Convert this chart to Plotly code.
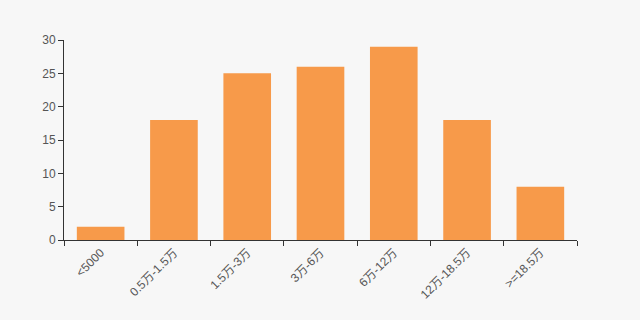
import plotly.graph_objects as go

categories = ["<5000", "0.5万-1.5万", "1.5万-3万", "3万-6万", "6万-12万", "12万-18.5万", ">=18.5万"]
values = [2, 18, 25, 26, 29, 18, 8]
y_ticks = [0, 5, 10, 15, 20, 25, 30]

fig = go.Figure(go.Bar(x=categories, y=values, marker=dict(color="#f79a4a", line_width=0), width=0.65))
fig.update_layout(
    width=640, height=320,
    margin=dict(l=64, r=63, t=40, b=80),
    paper_bgcolor="#f7f7f7", plot_bgcolor="#f7f7f7",
    font=dict(family="Liberation Sans, Noto Sans CJK SC", size=12, color="#555"),
    showlegend=False, bargap=0.35,
)
fig.update_xaxes(tickangle=-45, showline=True, linecolor="#333", linewidth=1,
                 ticks="outside", ticklen=5, tickcolor="#333", showgrid=False,
                 tickson="boundaries")
fig.update_yaxes(range=[0, 30], tickvals=y_ticks, showline=True, linecolor="#333", linewidth=1,
                 ticks="outside", ticklen=5, tickcolor="#333", showgrid=False, zeroline=False)
fig.write_html("out.html")
